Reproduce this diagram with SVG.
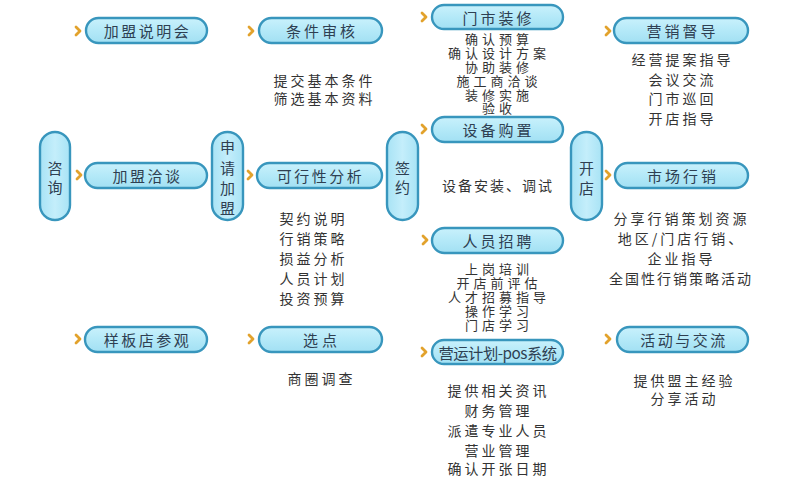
<svg xmlns="http://www.w3.org/2000/svg" width="794" height="479" viewBox="0 0 794 479">
<defs>
<linearGradient id="g" x1="0" y1="0" x2="0" y2="1">
<stop offset="0" stop-color="#c9f1fc"/>
<stop offset="0.5" stop-color="#b4e9f8"/>
<stop offset="1" stop-color="#a2e0f3"/>
</linearGradient>
<linearGradient id="gv" x1="0" y1="0" x2="1" y2="0">
<stop offset="0" stop-color="#a8e3f5"/>
<stop offset="0.5" stop-color="#c4eefb"/>
<stop offset="1" stop-color="#a8e3f5"/>
</linearGradient>
<style>
.p{fill:url(#g);stroke:#3896bd;stroke-width:2.4}
.v{fill:url(#gv);stroke:#3896bd;stroke-width:2.4}
.t{font-family:"Noto Sans CJK SC","Noto Sans",sans-serif;font-size:15px;fill:#2e3f52;text-anchor:middle;dominant-baseline:central;letter-spacing:2.5px}
.b{font-family:"Noto Sans CJK SC","Noto Sans",sans-serif;font-size:14px;fill:#333;text-anchor:middle;dominant-baseline:central;letter-spacing:3px}
.s{font-family:"Noto Sans CJK SC","Noto Sans",sans-serif;font-size:13px;fill:#333;text-anchor:middle;dominant-baseline:central;letter-spacing:4px}
.c{fill:none;stroke:#e2a22c;stroke-width:2.8;stroke-linecap:round;stroke-linejoin:round}
</style>
</defs>
<rect width="794" height="479" fill="#fff"/>
<g id="connectors">
<path class="c" d="M76 27 L80 31 L76 35"/>
<path class="c" d="M249 27 L253 31 L249 35"/>
<path class="c" d="M422 13 L426 17 L422 21"/>
<path class="c" d="M606 27 L610 31 L606 35"/>
<path class="c" d="M77 171 L81 175 L77 179"/>
<path class="c" d="M248 171 L252 175 L248 179"/>
<path class="c" d="M606 171 L610 175 L606 179"/>
<path class="c" d="M422 125 L426 129 L422 133"/>
<path class="c" d="M423 236 L427 240 L423 244"/>
<path class="c" d="M422 348 L426 352 L422 356"/>
<path class="c" d="M606 335 L610 339 L606 343"/>
<path class="c" d="M76 335 L80 339 L76 343"/>
<path class="c" d="M249 335 L253 339 L249 343"/>
</g>
<g id="zixun">
<rect class="v" x="40" y="132" width="30" height="88" rx="15"/>
<text class="t" x="55" y="167" style="letter-spacing:0">咨</text>
<text class="t" x="55" y="186" style="letter-spacing:0">询</text>
</g>
<g id="shenqing">
<rect class="v" x="212" y="132" width="31" height="88" rx="15.5"/>
<text class="t" x="227.5" y="146" style="letter-spacing:0">申</text>
<text class="t" x="227.5" y="167" style="letter-spacing:0">请</text>
<text class="t" x="227.5" y="187" style="letter-spacing:0">加</text>
<text class="t" x="227.5" y="207" style="letter-spacing:0">盟</text>
</g>
<g id="qianyue">
<rect class="v" x="387" y="132" width="31" height="88" rx="15.5"/>
<text class="t" x="402.5" y="167" style="letter-spacing:0">签</text>
<text class="t" x="402.5" y="186" style="letter-spacing:0">约</text>
</g>
<g id="kaidian">
<rect class="v" x="571" y="132" width="31" height="88" rx="15.5"/>
<text class="t" x="586.5" y="167" style="letter-spacing:0">开</text>
<text class="t" x="586.5" y="187" style="letter-spacing:0">店</text>
</g>
<g id="jiameng-shuoming">
<rect class="p" x="86" y="18" width="121" height="25" rx="12.5"/>
<text class="t" x="147.5" y="30.5">加盟说明会</text>
</g>
<g id="tiaojian">
<rect class="p" x="259" y="18" width="123" height="25" rx="12.5"/>
<text class="t" x="322" y="30.5" style="letter-spacing:3px">条件审核</text>
<text class="b" x="324.5" y="80">提交基本条件</text>
<text class="b" x="324.5" y="98">筛选基本资料</text>
</g>
<g id="menshi">
<rect class="p" x="432" y="5" width="131" height="24" rx="12"/>
<text class="t" x="498.5" y="17" style="letter-spacing:3px">门市装修</text>
<text class="s" x="499" y="38">确认预算</text>
<text class="s" x="499" y="52">确认设计方案</text>
<text class="s" x="499" y="66">协助装修</text>
<text class="s" x="499" y="80">施工商洽谈</text>
<text class="s" x="499" y="94">装修实施</text>
<text class="s" x="499" y="107">验收</text>
</g>
<g id="yingxiao">
<rect class="p" x="614" y="18" width="134" height="25" rx="12.5"/>
<text class="t" x="682.5" y="30.5" style="letter-spacing:3px">营销督导</text>
<text class="b" x="682.5" y="59">经营提案指导</text>
<text class="b" x="682.5" y="79">会议交流</text>
<text class="b" x="682.5" y="98">门市巡回</text>
<text class="b" x="682.5" y="118">开店指导</text>
</g>
<g id="qiatan">
<rect class="p" x="85" y="163" width="122" height="25" rx="12.5"/>
<text class="t" x="147.5" y="175.5">加盟洽谈</text>
</g>
<g id="kexing">
<rect class="p" x="257" y="163" width="125" height="25" rx="12.5"/>
<text class="t" x="320.5" y="175.5">可行性分析</text>
<text class="b" x="313.5" y="218">契约说明</text>
<text class="b" x="313.5" y="238">行销策略</text>
<text class="b" x="313.5" y="258">损益分析</text>
<text class="b" x="313.5" y="278">人员计划</text>
<text class="b" x="313.5" y="298">投资预算</text>
</g>
<g id="shebei">
<rect class="p" x="432" y="117" width="131" height="25" rx="12.5"/>
<text class="t" x="498.5" y="129.5" style="letter-spacing:3px">设备购置</text>
<text class="b" x="498" y="185" style="letter-spacing:2px">设备安装、调试</text>
</g>
<g id="shichang">
<rect class="p" x="615" y="163" width="133" height="25" rx="12.5"/>
<text class="t" x="683" y="175.5" style="letter-spacing:3px">市场行销</text>
<text class="b" x="681.5" y="218">分享行销策划资源</text>
<text class="b" x="681.5" y="238">地区/门店行销、</text>
<text class="b" x="681.5" y="258">企业指导</text>
<text class="b" x="681" y="278" style="letter-spacing:2px">全国性行销策略活动</text>
</g>
<g id="renyuan">
<rect class="p" x="432" y="228" width="131" height="25" rx="12.5"/>
<text class="t" x="498.5" y="240.5" style="letter-spacing:3px">人员招聘</text>
<text class="s" x="499" y="268">上岗培训</text>
<text class="s" x="499" y="282">开店前评估</text>
<text class="s" x="499" y="296">人才招募指导</text>
<text class="s" x="499" y="310">操作学习</text>
<text class="s" x="499" y="324">门店学习</text>
</g>
<g id="yangban">
<rect class="p" x="85" y="327" width="122" height="25" rx="12.5"/>
<text class="t" x="147.5" y="339.5">样板店参观</text>
</g>
<g id="xuandian">
<rect class="p" x="259" y="327" width="123" height="25" rx="12.5"/>
<text class="t" x="322" y="339.5" style="letter-spacing:4px">选点</text>
<text class="b" x="321.5" y="378">商圈调查</text>
</g>
<g id="yingyun">
<rect class="p" x="432" y="340" width="131" height="24" rx="12"/>
<text class="t" x="497.5" y="352" style="letter-spacing:-0.5px" textLength="118" lengthAdjust="spacingAndGlyphs">营运计划-pos系统</text>
<text class="b" x="498.5" y="390">提供相关资讯</text>
<text class="b" x="498.5" y="410">财务管理</text>
<text class="b" x="498.5" y="430">派遣专业人员</text>
<text class="b" x="498.5" y="450">营业管理</text>
<text class="b" x="498.5" y="468">确认开张日期</text>
</g>
<g id="huodong">
<rect class="p" x="617" y="327" width="131" height="25" rx="12.5"/>
<text class="t" x="684" y="339.5">活动与交流</text>
<text class="b" x="684.5" y="380">提供盟主经验</text>
<text class="b" x="684.5" y="398">分享活动</text>
</g>
</svg>
